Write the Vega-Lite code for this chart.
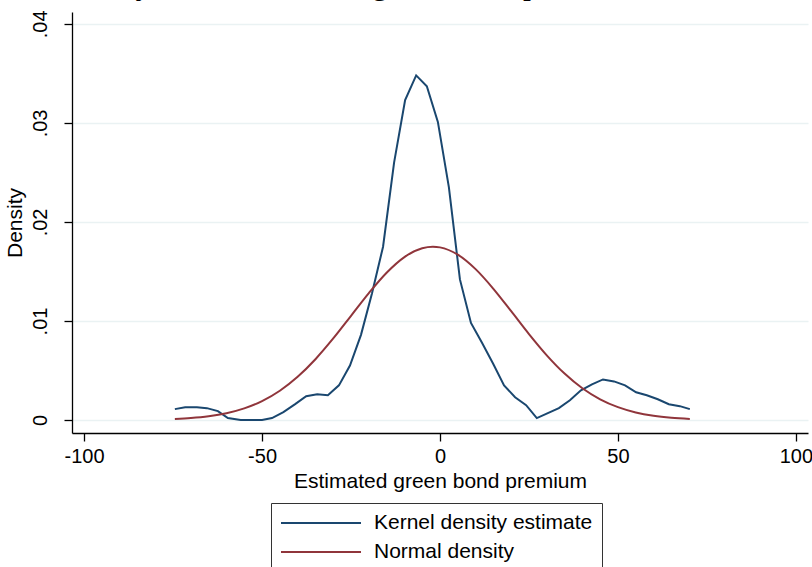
{
  "$schema": "https://vega.github.io/schema/vega-lite/v6.json",
  "width": 736,
  "height": 421,
  "autosize": {"type": "none"},
  "padding": {"left": 72, "top": 12, "right": 4, "bottom": 134},
  "background": "white",
  "title": {
    "text": "Density of the estimated green bond premium",
    "font": "Liberation Serif",
    "fontSize": 32,
    "fontWeight": "normal",
    "anchor": "start",
    "frame": "group",
    "dx": -20,
    "offset": -16,
    "baseline": "alphabetic",
    "color": "black"
  },
  "config": {
    "view": {"stroke": null},
    "font": "Liberation Sans",
    "axis": {
      "domainColor": "black",
      "domainWidth": 1.3,
      "tickColor": "black",
      "tickWidth": 1.3,
      "tickSize": 8,
      "labelColor": "black",
      "titleColor": "black",
      "labelFont": "Liberation Sans",
      "titleFont": "Liberation Sans",
      "labelFontSize": 20,
      "titleFontSize": 21,
      "titleFontWeight": "normal"
    }
  },
  "datasets": {
    "curves": [
      {"x": -74.5, "density": 0.0011, "series": "Kernel density estimate"},
      {"x": -71.6, "density": 0.0013, "series": "Kernel density estimate"},
      {"x": -68.3, "density": 0.0013, "series": "Kernel density estimate"},
      {"x": -65.5, "density": 0.0012, "series": "Kernel density estimate"},
      {"x": -62.4, "density": 0.0009, "series": "Kernel density estimate"},
      {"x": -59.6, "density": 0.0002, "series": "Kernel density estimate"},
      {"x": -56.0, "density": 0.0000, "series": "Kernel density estimate"},
      {"x": -53.0, "density": 0.0000, "series": "Kernel density estimate"},
      {"x": -50.0, "density": 0.0000, "series": "Kernel density estimate"},
      {"x": -47.2, "density": 0.0002, "series": "Kernel density estimate"},
      {"x": -44.0, "density": 0.0008, "series": "Kernel density estimate"},
      {"x": -40.7, "density": 0.0016, "series": "Kernel density estimate"},
      {"x": -37.6, "density": 0.0024, "series": "Kernel density estimate"},
      {"x": -34.5, "density": 0.0026, "series": "Kernel density estimate"},
      {"x": -31.5, "density": 0.0025, "series": "Kernel density estimate"},
      {"x": -28.4, "density": 0.0035, "series": "Kernel density estimate"},
      {"x": -25.3, "density": 0.0055, "series": "Kernel density estimate"},
      {"x": -22.2, "density": 0.0086, "series": "Kernel density estimate"},
      {"x": -19.1, "density": 0.0128, "series": "Kernel density estimate"},
      {"x": -16.0, "density": 0.0175, "series": "Kernel density estimate"},
      {"x": -12.9, "density": 0.0260, "series": "Kernel density estimate"},
      {"x": -9.8, "density": 0.0323, "series": "Kernel density estimate"},
      {"x": -6.7, "density": 0.0348, "series": "Kernel density estimate"},
      {"x": -3.7, "density": 0.0337, "series": "Kernel density estimate"},
      {"x": -0.6, "density": 0.0301, "series": "Kernel density estimate"},
      {"x": 2.5, "density": 0.0235, "series": "Kernel density estimate"},
      {"x": 5.6, "density": 0.0142, "series": "Kernel density estimate"},
      {"x": 8.7, "density": 0.0098, "series": "Kernel density estimate"},
      {"x": 11.8, "density": 0.0078, "series": "Kernel density estimate"},
      {"x": 14.9, "density": 0.0057, "series": "Kernel density estimate"},
      {"x": 18.0, "density": 0.0035, "series": "Kernel density estimate"},
      {"x": 21.1, "density": 0.0023, "series": "Kernel density estimate"},
      {"x": 24.2, "density": 0.0015, "series": "Kernel density estimate"},
      {"x": 27.2, "density": 0.0002, "series": "Kernel density estimate"},
      {"x": 30.3, "density": 0.0007, "series": "Kernel density estimate"},
      {"x": 33.4, "density": 0.0012, "series": "Kernel density estimate"},
      {"x": 36.5, "density": 0.0020, "series": "Kernel density estimate"},
      {"x": 39.6, "density": 0.0030, "series": "Kernel density estimate"},
      {"x": 42.7, "density": 0.0036, "series": "Kernel density estimate"},
      {"x": 45.8, "density": 0.0041, "series": "Kernel density estimate"},
      {"x": 48.9, "density": 0.0039, "series": "Kernel density estimate"},
      {"x": 52.0, "density": 0.0035, "series": "Kernel density estimate"},
      {"x": 55.1, "density": 0.0028, "series": "Kernel density estimate"},
      {"x": 58.1, "density": 0.0025, "series": "Kernel density estimate"},
      {"x": 61.2, "density": 0.0021, "series": "Kernel density estimate"},
      {"x": 64.3, "density": 0.0016, "series": "Kernel density estimate"},
      {"x": 67.4, "density": 0.0014, "series": "Kernel density estimate"},
      {"x": 70.2, "density": 0.0011, "series": "Kernel density estimate"},
      {"x": -74.5, "density": 0.000112, "series": "Normal density"},
      {"x": -70, "density": 0.000205, "series": "Normal density"},
      {"x": -65, "density": 0.000385, "series": "Normal density"},
      {"x": -60, "density": 0.000688, "series": "Normal density"},
      {"x": -55, "density": 0.001174, "series": "Normal density"},
      {"x": -50, "density": 0.001908, "series": "Normal density"},
      {"x": -45, "density": 0.002958, "series": "Normal density"},
      {"x": -40, "density": 0.004365, "series": "Normal density"},
      {"x": -35, "density": 0.006141, "series": "Normal density"},
      {"x": -30, "density": 0.008234, "series": "Normal density"},
      {"x": -25, "density": 0.010521, "series": "Normal density"},
      {"x": -20, "density": 0.012815, "series": "Normal density"},
      {"x": -15, "density": 0.014875, "series": "Normal density"},
      {"x": -10, "density": 0.016455, "series": "Normal density"},
      {"x": -5, "density": 0.017349, "series": "Normal density"},
      {"x": -2, "density": 0.0175, "series": "Normal density"},
      {"x": 0, "density": 0.017433, "series": "Normal density"},
      {"x": 5, "density": 0.016695, "series": "Normal density"},
      {"x": 10, "density": 0.015237, "series": "Normal density"},
      {"x": 15, "density": 0.013253, "series": "Normal density"},
      {"x": 20, "density": 0.010987, "series": "Normal density"},
      {"x": 25, "density": 0.00868, "series": "Normal density"},
      {"x": 30, "density": 0.006536, "series": "Normal density"},
      {"x": 35, "density": 0.00469, "series": "Normal density"},
      {"x": 40, "density": 0.003208, "series": "Normal density"},
      {"x": 45, "density": 0.002091, "series": "Normal density"},
      {"x": 50, "density": 0.0013, "series": "Normal density"},
      {"x": 55, "density": 0.000769, "series": "Normal density"},
      {"x": 60, "density": 0.000434, "series": "Normal density"},
      {"x": 65, "density": 0.000233, "series": "Normal density"},
      {"x": 70.2, "density": 0.000116, "series": "Normal density"}
    ]
  },
  "data": {"name": "curves"},
  "encoding": {
    "x": {
      "field": "x",
      "type": "quantitative",
      "scale": {"domain": [-103.4, 103.4], "nice": false, "zero": false},
      "axis": {
        "values": [-100, -50, 0, 50, 100],
        "labelExpr": "datum.value < 0 ? '-' + abs(datum.value) : '' + datum.value",
        "title": "Estimated green bond premium",
        "grid": false,
        "labelPadding": 5,
        "titlePadding": 4
      }
    },
    "y": {
      "field": "density",
      "type": "quantitative",
      "scale": {"domain": [-0.00131, 0.0412], "nice": false, "zero": false},
      "axis": {
        "values": [0, 0.01, 0.02, 0.03, 0.04],
        "labelExpr": "datum.value == 0 ? '0' : substring(format(datum.value, '.2f'), 1)",
        "labelAngle": -90,
        "labelAlign": "center",
        "labelBaseline": "bottom",
        "labelPadding": 14,
        "title": "Density",
        "titlePadding": 5,
        "grid": true,
        "gridColor": "#eaf2f3",
        "gridWidth": 1.3
      }
    },
    "color": {
      "field": "series",
      "type": "nominal",
      "scale": {
        "domain": ["Kernel density estimate", "Normal density"],
        "range": ["#1a476f", "#90353b"]
      },
      "legend": {
        "title": null,
        "orient": "none",
        "legendX": 199,
        "legendY": 491,
        "direction": "vertical",
        "symbolType": "M-1,0H7",
        "symbolSize": 400,
        "symbolStrokeWidth": 2,
        "labelFontSize": 21,
        "labelFont": "Liberation Sans",
        "labelColor": "black",
        "labelLimit": 400,
        "labelOffset": 72,
        "padding": 9,
        "strokeColor": "#333333",
        "fillColor": "white",
        "rowPadding": 8
      }
    }
  },
  "layer": [
    {
      "transform": [{"filter": "datum.series == 'Kernel density estimate'"}],
      "mark": {"type": "line", "strokeWidth": 2, "interpolate": "linear"}
    },
    {
      "transform": [{"filter": "datum.series == 'Normal density'"}],
      "mark": {"type": "line", "strokeWidth": 2, "interpolate": "monotone"}
    }
  ]
}
